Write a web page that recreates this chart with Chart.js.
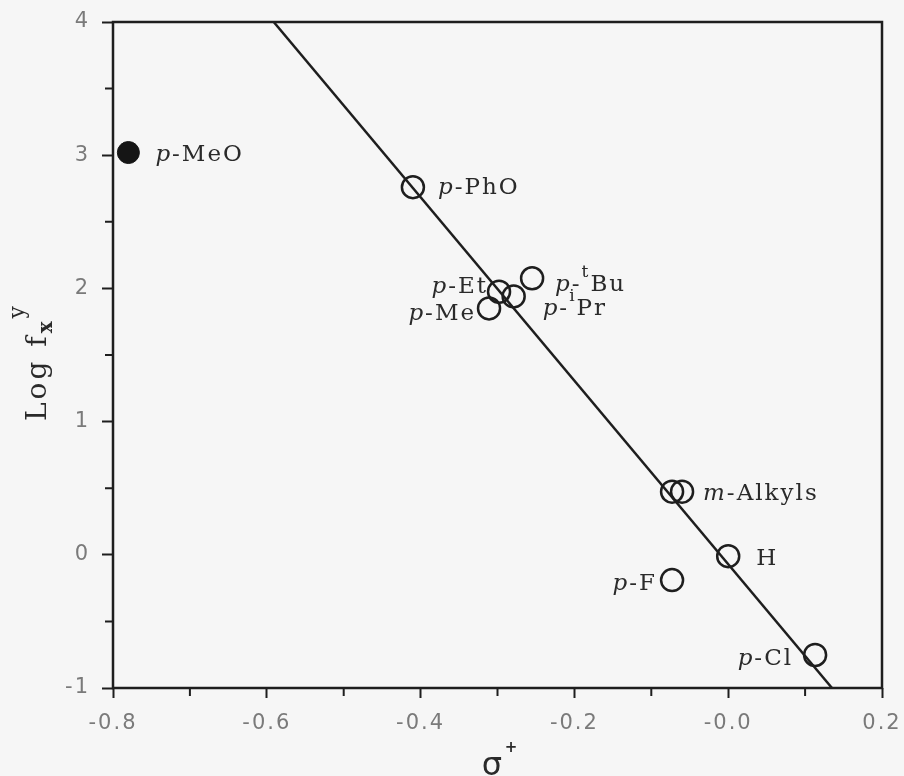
<!DOCTYPE html>
<html>
<head>
<meta charset="utf-8">
<script src="https://cdn.jsdelivr.net/npm/chart.js@4.4.1/dist/chart.umd.min.js"></script>
<style>
  html, body { margin: 0; padding: 0; background: #f6f6f6; }
  #wrap { width: 904px; height: 776px; }
</style>
</head>
<body>
<div id="wrap"><canvas id="chart" width="904" height="776"></canvas></div>
<script>
// substituents used in the correlation (open circles)
const substituents = ['p-PhO', 'p-Et', 'p-Me', 'p-iPr', 'p-tBu', 'm-Alkyls', 'm-Alkyls', 'H', 'p-F', 'p-Cl'];
const sigmaPlus = [-0.41, -0.298, -0.311, -0.279, -0.255, -0.073, -0.060, 0.0, -0.073, 0.113];
const logF = [2.76, 1.975, 1.85, 1.94, 2.076, 0.474, 0.474, -0.01, -0.19, -0.752];

// point left out of the fit (filled circle)
const outlierNames = ['p-MeO'];
const outlierSigma = [-0.78];
const outlierLogF = [3.02];

// fitted line, end points
const fitSigma = [-0.591, 0.135];
const fitLogF = [4, -1];

// axis ticks
const xTicks = [-0.8, -0.6, -0.4, -0.2, 0.0, 0.2];
const xMinor = [-0.7, -0.5, -0.3, -0.1, 0.1];
const yTicks = [-1, 0, 1, 2, 3, 4];
const yMinor = [-0.5, 0.5, 1.5, 2.5, 3.5];

// where each label sits relative to its circle (px), and which side
const labelPlace = {
  'p-MeO': [27, 0, 'left'],
  'p-PhO': [25, -1, 'left'],
  'p-Et': [-11, -7, 'right'],
  'p-Me': [-13, 4, 'right'],
  'p-iPr': [29, 11, 'left'],
  'p-tBu': [23, 5, 'left'],
  'm-Alkyls': [21, 0, 'left'],
  'H': [28, 1, 'left'],
  'p-F': [-15, 2, 'right'],
  'p-Cl': [-22, 2, 'right']
};

const INK = '#1e1e1e';
const SERIF = '"DejaVu Serif", serif';

// split "p-tBu" into italic p, dash, superscript t, Bu
function labelParts(name) {
  const m = name.match(/^([pm])-(.*)$/);
  if (!m) return [{ t: name }];
  const out = [{ t: m[1], it: true }, { t: '-' }];
  let rest = m[2];
  if (/^[it][A-Z]/.test(rest)) {
    out.push({ t: rest[0], sup: true });
    rest = rest.slice(1);
  }
  out.push({ t: rest });
  return out;
}

function drawRich(ctx, parts, x, baseline, align, size) {
  const fonts = parts.map(p => {
    const s = (p.sup || p.sub) ? Math.round(size * (p.small || 0.72)) : size;
    return (p.it ? 'italic ' : '') + (p.bold ? 'bold ' : '') + s + 'px ' + SERIF;
  });
  const widths = parts.map((p, i) => { ctx.font = fonts[i]; return ctx.measureText(p.t).width; });
  const total = widths.reduce((a, b) => a + b, 0);
  let cx = align === 'right' ? x - total : (align === 'center' ? x - total / 2 : x);
  parts.forEach((p, i) => {
    ctx.font = fonts[i];
    let dy = 0;
    if (p.sup) dy = -(p.raise || 0.62) * size;
    if (p.sub) dy = (p.lower || 0.22) * size;
    ctx.fillText(p.t, cx, baseline + dy);
    cx += widths[i];
  });
}

const framePlugin = {
  id: 'frame',
  beforeDraw(chart) {
    const { ctx } = chart;
    ctx.save();
    ctx.fillStyle = '#f6f6f6';
    ctx.fillRect(0, 0, chart.width, chart.height);
    ctx.restore();
    ctx.letterSpacing = '2px'; // tick labels are widely spaced in the original
  },
  afterDraw(chart) {
    const { ctx, chartArea: a, scales: { x, y } } = chart;
    ctx.save();

    // box round the plot
    ctx.strokeStyle = INK;
    ctx.lineWidth = 2.5;
    ctx.strokeRect(a.left, a.top, a.right - a.left, a.bottom - a.top);

    // minor ticks, outside
    ctx.lineWidth = 2;
    ctx.beginPath();
    xMinor.forEach(v => {
      const px = x.getPixelForValue(v);
      ctx.moveTo(px, a.bottom);
      ctx.lineTo(px, a.bottom + 8);
    });
    yMinor.forEach(v => {
      const py = y.getPixelForValue(v);
      ctx.moveTo(a.left - 8, py);
      ctx.lineTo(a.left, py);
    });
    ctx.stroke();

    // point labels
    ctx.fillStyle = '#2a2a2a';
    ctx.textAlign = 'left';
    ctx.textBaseline = 'alphabetic';
    ctx.letterSpacing = '2px';
    const open = chart.getDatasetMeta(1).data;
    substituents.forEach((name, i) => {
      if (substituents.lastIndexOf(name) !== i) return;
      const [dx, dy, side] = labelPlace[name];
      drawRich(ctx, labelParts(name), open[i].x + dx, open[i].y + dy + 8, side, 23);
    });
    const filled = chart.getDatasetMeta(2).data;
    outlierNames.forEach((name, i) => {
      const [dx, dy, side] = labelPlace[name];
      drawRich(ctx, labelParts(name), filled[i].x + dx, filled[i].y + dy + 8, side, 23);
    });

    // y title: Log f_x^y, turned
    ctx.save();
    ctx.translate(46, 362);
    ctx.rotate(-Math.PI / 2);
    ctx.fillStyle = '#2a2a2a';
    ctx.letterSpacing = '3px';
    drawRich(ctx, [
      { t: 'Log f' },
      { t: 'x', sub: true, bold: true, small: 0.7, lower: 0.2 },
      { t: 'y', sup: true, small: 0.78, raise: 0.8 }
    ], 0, 0, 'center', 28);
    ctx.restore();

    // x title: sigma+
    ctx.letterSpacing = '0px';
    ctx.fillStyle = '#2a2a2a';
    ctx.textAlign = 'center';
    ctx.font = '32px "DejaVu Sans", sans-serif';
    ctx.fillText('\u03c3', 492, 775);
    ctx.font = 'bold 15px "DejaVu Sans", sans-serif';
    ctx.fillText('+', 511, 752);

    ctx.restore();
  }
};

const tickFont = { family: '"DejaVu Sans", sans-serif', size: 21 };

new Chart(document.getElementById('chart'), {
  type: 'scatter',
  data: {
    datasets: [
      {
        type: 'line',
        data: fitSigma.map((v, i) => ({ x: v, y: fitLogF[i] })),
        borderColor: INK,
        borderWidth: 2.5,
        pointRadius: 0,
        fill: false,
        tension: 0
      },
      {
        data: sigmaPlus.map((v, i) => ({ x: v, y: logF[i] })),
        pointRadius: 11,
        pointHoverRadius: 11,
        backgroundColor: 'rgba(0,0,0,0)',
        borderColor: INK,
        borderWidth: 2.5
      },
      {
        data: outlierSigma.map((v, i) => ({ x: v, y: outlierLogF[i] })),
        pointRadius: 11,
        pointHoverRadius: 11,
        backgroundColor: '#151515',
        borderColor: '#151515',
        borderWidth: 1
      }
    ]
  },
  options: {
    responsive: false,
    animation: false,
    events: [],
    layout: { padding: { top: 22, right: 22, left: 0, bottom: 0 } },
    plugins: { legend: { display: false }, tooltip: { enabled: false } },
    scales: {
      x: {
        type: 'linear',
        min: -0.8,
        max: 0.2,
        afterFit(s) { s.height = 88; s.paddingLeft = 0; s.paddingRight = 0; },
        afterBuildTicks(s) { s.ticks = xTicks.map(v => ({ value: v })); },
        border: { display: false },
        grid: { drawOnChartArea: false, tickLength: 10, tickColor: INK, tickWidth: 2 },
        ticks: {
          color: '#7a7a7a',
          font: tickFont,
          padding: 13,
          maxRotation: 0,
          autoSkip: false,
          callback: v => Math.abs(v) < 1e-9 ? '-0.0' : v.toFixed(1)
        }
      },
      y: {
        type: 'linear',
        min: -1,
        max: 4,
        afterFit(s) { s.width = 113; s.paddingTop = 0; s.paddingBottom = 0; },
        afterBuildTicks(s) { s.ticks = yTicks.map(v => ({ value: v })); },
        border: { display: false },
        grid: { drawOnChartArea: false, tickLength: 11, tickColor: INK, tickWidth: 2 },
        ticks: {
          color: '#7a7a7a',
          font: tickFont,
          padding: 12,
          autoSkip: false,
          callback: v => String(v)
        }
      }
    }
  },
  plugins: [framePlugin]
});
</script>
</body>
</html>
